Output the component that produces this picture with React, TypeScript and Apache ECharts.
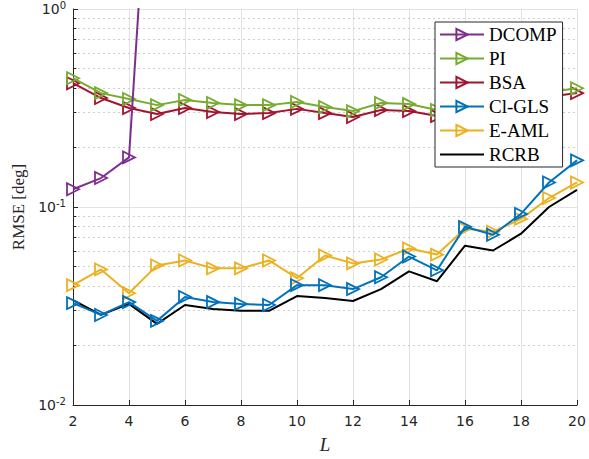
import React, { useEffect, useRef } from "react";
import * as echarts from "echarts";

const L = [2, 3, 4, 5, 6, 7, 8, 9, 10, 11, 12, 13, 14, 15, 16, 17, 18, 19, 20];

const DCOMP = [0.123, 0.14, 0.178, 29, 45, 60, 75, 90, 110, 130, 150, 170, 190, 210, 230, 250, 270, 290, 310];
const PI = [0.447, 0.376, 0.351, 0.327, 0.347, 0.335, 0.327, 0.327, 0.339, 0.32, 0.305, 0.335, 0.331, 0.309, 0.32, 0.33, 0.345, 0.38, 0.398];
const BSA = [0.422, 0.355, 0.316, 0.295, 0.316, 0.302, 0.295, 0.298, 0.313, 0.298, 0.285, 0.309, 0.305, 0.288, 0.3, 0.31, 0.325, 0.36, 0.376];
const CLGLS = [0.0327, 0.0285, 0.0331, 0.0266, 0.0351, 0.0331, 0.0324, 0.032, 0.0403, 0.0403, 0.0385, 0.0442, 0.0562, 0.0479, 0.0794, 0.0724, 0.0923, 0.133, 0.172];
const EAML = [0.0403, 0.0484, 0.0367, 0.0507, 0.0537, 0.049, 0.049, 0.0537, 0.0437, 0.0569, 0.0519, 0.0543, 0.0617, 0.0575, 0.0776, 0.075, 0.0871, 0.111, 0.133];
const RCRB = [0.0339, 0.0285, 0.0324, 0.0257, 0.032, 0.0305, 0.0299, 0.0299, 0.0355, 0.0347, 0.0335, 0.0385, 0.0473, 0.0422, 0.0638, 0.0603, 0.0733, 0.1, 0.122];

const SERIES_NAMES = ["DCOMP", "PI", "BSA", "Cl-GLS", "E-AML", "RCRB"];
const SERIES_COLORS = ["#7E2F8E", "#77AC30", "#A2142F", "#0072BD", "#EDB120", "#000000"];
const SERIES_DATA = [DCOMP, PI, BSA, CLGLS, EAML, RCRB];

const MINOR_GRID = [0.02, 0.03, 0.04, 0.05, 0.06, 0.07, 0.08, 0.09, 0.2, 0.3, 0.4, 0.5, 0.6, 0.7, 0.8, 0.9];

export default function App() {
  const ref = useRef<HTMLDivElement>(null);
  useEffect(() => {
    if (!ref.current) return;
    const chart = echarts.init(ref.current, null, { renderer: "svg" });
    const series: any[] = SERIES_DATA.map((vals, i) => {
      const c = SERIES_COLORS[i];
      const hasMarker = i < 5;
      const s: any = {
        name: SERIES_NAMES[i],
        type: "line",
        data: L.map((x, k) => [x, vals[k]]),
        symbol: hasMarker ? "triangle" : "none",
        symbolSize: 12,
        symbolRotate: -90,
        showAllSymbol: true,
        clip: true,
        z: 10 - i,
        lineStyle: { color: c, width: 2 },
        itemStyle: hasMarker
          ? { color: "rgba(255,255,255,0)", borderColor: c, borderWidth: 1.8 }
          : { color: "rgba(255,255,255,0)", borderColor: "rgba(255,255,255,0)", borderWidth: 0, opacity: 0 },
      };
      return s;
    });
    series.push({
      name: "_minor",
      type: "line",
      data: [],
      silent: true,
      markLine: {
        silent: true,
        symbol: "none",
        label: { show: false },
        animation: false,
        lineStyle: { color: "#cfcfcf", type: [2, 3], width: 1 },
        data: MINOR_GRID.map((v) => ({ yAxis: v })),
      },
    });
    series.push({
      name: "_minorTicks",
      type: "line",
      data: [],
      silent: true,
      markLine: {
        silent: true,
        symbol: "none",
        label: { show: false },
        animation: false,
        lineStyle: { color: "#262626", type: "solid", width: 1 },
        data: MINOR_GRID.map((v) => [{ coord: [2, v] }, { coord: [2.12, v] }]),
      },
    });

    chart.setOption({
      animation: false,
      backgroundColor: "#ffffff",
      grid: { left: 73, right: 12, top: 8, bottom: 51, containLabel: false },
      legend: {
        data: SERIES_NAMES,
        orient: "vertical",
        left: 435,
        top: 22,
        backgroundColor: "#ffffff",
        borderColor: "#262626",
        borderWidth: 1,
        borderRadius: 0,
        padding: [3, 6, 3, 4],
        itemWidth: 44,
        itemHeight: 14,
        itemGap: 5,
        symbolRotate: "inherit",
        textStyle: { fontFamily: "Liberation Serif", fontSize: 19, color: "#000", lineHeight: 18 },
        z: 20,
      },
      xAxis: {
        type: "value",
        min: 2,
        max: 20,
        interval: 2,
        name: "L",
        nameLocation: "middle",
        nameGap: 30,
        nameTextStyle: { fontFamily: "Liberation Serif", fontStyle: "italic", fontSize: 19, color: "#262626" },
        axisLine: { show: true, lineStyle: { color: "#262626", width: 1 } },
        axisTick: { show: true, inside: true, length: 5, lineStyle: { color: "#262626" } },
        axisLabel: { fontFamily: "DejaVu Sans", fontSize: 14, color: "#262626", margin: 9 },
        splitLine: { show: true, lineStyle: { color: "#e3e3e3", width: 1 } },
      },
      yAxis: {
        type: "log",
        logBase: 10,
        min: 0.01,
        max: 1,
        name: "RMSE [deg]",
        nameLocation: "middle",
        nameGap: 45,
        nameRotate: 90,
        nameTextStyle: { fontFamily: "Liberation Serif", fontSize: 17, color: "#262626" },
        axisLine: { show: true, lineStyle: { color: "#262626", width: 1 } },
        axisTick: { show: true, inside: true, length: 5, lineStyle: { color: "#262626" } },
        axisLabel: {
          margin: 7,
          formatter: (v: number) => {
            const e = Math.round(Math.log10(v));
            return "{b|10}{s|" + e + "}";
          },
          rich: {
            b: { fontFamily: "DejaVu Sans", fontSize: 14, color: "#262626" },
            s: { fontFamily: "DejaVu Sans", fontSize: 10, color: "#262626", verticalAlign: "top", padding: [0, 0, 8, 0] },
          },
        },
        splitLine: { show: true, lineStyle: { color: "#e3e3e3", width: 1 } },
      },
      series,
    });
    return () => chart.dispose();
  }, []);
  return <div ref={ref} style={{ width: 589, height: 459, position: "absolute", left: 0, top: 0 }} />;
}
